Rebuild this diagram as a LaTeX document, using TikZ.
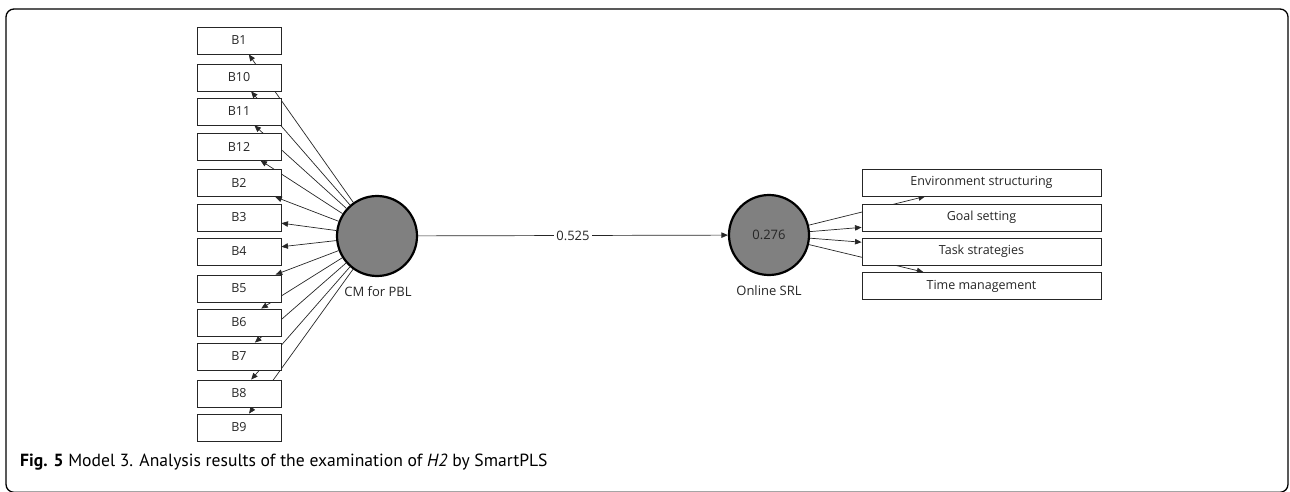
\documentclass[tikz,border=0pt]{standalone}
\usepackage{fontspec}
\setmainfont{Open Sans}
\newfontfamily\capfont{PT Sans}
\usetikzlibrary{arrows.meta,backgrounds}
\begin{document}
\begin{tikzpicture}[x=1pt,y=-1pt,
  ind/.style={draw=black!85, line width=0.9pt, fill=white, minimum width=84pt,
    minimum height=27pt, inner sep=0pt, font=\fontsize{12.5}{14}\selectfont, text=black!85},
  item/.style={ind, minimum width=239pt},
  lv/.style={circle, draw=black, line width=2.2pt, fill=black!50, minimum size=80pt,
    inner sep=0pt, font=\fontsize{13}{15}\selectfont, text=black!85},
  con/.style={line width=0.7pt, draw=black!85, -{Triangle[length=6.5pt,width=5.5pt]}},
  lbl/.style={font=\fontsize{13}{15}\selectfont, text=black!85, inner sep=1pt},
  wt/.style={lbl, fill=white, inner sep=2pt}]
\useasboundingbox (0,0) rectangle (1290,492);
\draw[line width=1.3pt, rounded corners=8pt] (6,9) rectangle (1288,492.3);

% latent variables
\node[lv] (cm) at (377,236) {};
\node[lv] (srl) at (769,235) {0.276};
\node[lbl] (cmlbl) at (378,292) {CM for PBL};
\node[lbl] (srllbl) at (769,291) {Online SRL};

% indicators of CM for PBL
\node[ind] (b1)  at (239,40.5)  {B1};
\node[ind] (b10) at (239,77.5)  {B10};
\node[ind] (b11) at (239,111.5) {B11};
\node[ind] (b12) at (239,146.5) {B12};
\node[ind] (b2)  at (239,183)   {B2};
\node[ind] (b3)  at (239,217.5) {B3};
\node[ind] (b4)  at (239,251.5) {B4};
\node[ind] (b5)  at (239,288.5) {B5};
\node[ind] (b6)  at (239,322.5) {B6};
\node[ind] (b7)  at (239,356.5) {B7};
\node[ind] (b8)  at (239,393.5) {B8};
\node[ind] (b9)  at (239,427.5) {B9};

% indicators of Online SRL
\node[item] (env)  at (981.5,182.5) {Environment structuring};
\node[item] (goal) at (981.5,217.5) {Goal setting};
\node[item] (task) at (981.5,251.5) {Task strategies};
\node[item] (time) at (981.5,286)   {Time management};

\begin{pgfonlayer}{background}
  \foreach \b in {b1,b10,b11,b12,b2,b3,b4,b5,b6,b7,b8,b9}
    \draw[con] (cm) -- (\b);
  \foreach \t in {env,goal,task,time}
    \draw[con] (srl) -- (\t);
\end{pgfonlayer}
\draw[con] (cm) -- node[wt] (path) {0.525} (srl);

% caption
\node[anchor=west, font=\capfont\fontsize{17.6}{20}\selectfont, inner sep=0pt] (cap) at (20,462)
  {\textbf{Fig. 5} Model 3. Analysis results of the examination of \textit{H2} by SmartPLS};
\end{tikzpicture}
\end{document}
